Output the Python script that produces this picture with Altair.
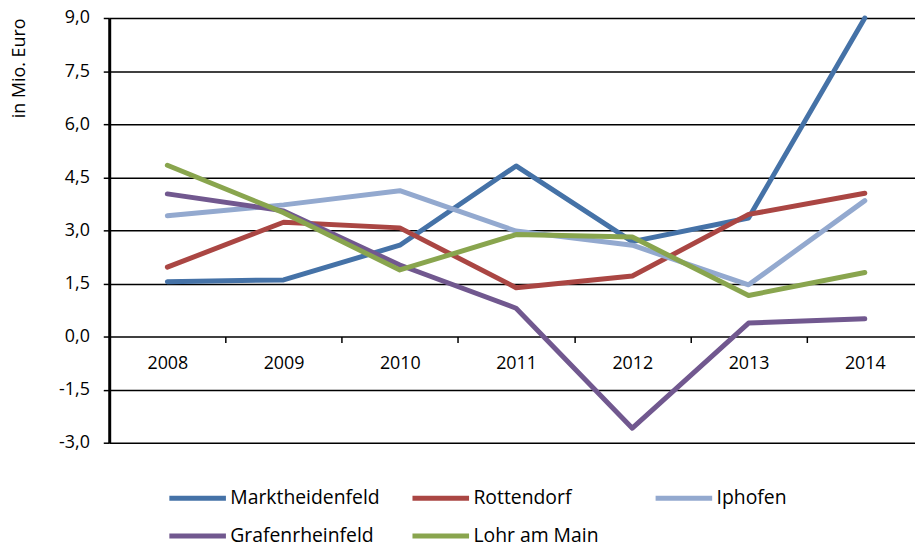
import altair as alt
import pandas as pd

years = ["2008", "2009", "2010", "2011", "2012", "2013", "2014"]
series_names = ["Marktheidenfeld", "Rottendorf", "Iphofen", "Grafenrheinfeld", "Lohr am Main"]
marktheidenfeld = [1.55, 1.60, 2.58, 4.82, 2.68, 3.35, 9.0]
rottendorf = [1.96, 3.23, 3.07, 1.38, 1.71, 3.45, 4.05]
iphofen = [3.41, 3.72, 4.12, 2.98, 2.58, 1.46, 3.84]
grafenrheinfeld = [4.03, 3.55, 2.02, 0.80, -2.59, 0.38, 0.50]
lohr_am_main = [4.84, 3.50, 1.88, 2.88, 2.81, 1.16, 1.81]
colors = ["#4572A7", "#AA4643", "#93A9CF", "#71588F", "#89A54E"]
y_ticks = [-3.0, -1.5, 0.0, 1.5, 3.0, 4.5, 6.0, 7.5, 9.0]

values = [marktheidenfeld, rottendorf, iphofen, grafenrheinfeld, lohr_am_main]
rows = []
for i, (name, vals) in enumerate(zip(series_names, values)):
    for y, v in zip(years, vals):
        rows.append({"Jahr": y, "Wert": v, "Gemeinde": name, "order": i})
df = pd.DataFrame(rows)

FONT = "Open Sans"

chart = alt.Chart(df).mark_line(
    strokeWidth=5, strokeCap="round", strokeJoin="round"
).encode(
    x=alt.X(
        "Jahr:N",
        sort=years,
        scale=alt.Scale(paddingInner=0, paddingOuter=0, range=[0, 820]),
        axis=alt.Axis(
            title=None,
            labelAngle=0,
            domain=False,
            grid=False,
            ticks=True,
            tickBand="extent",
            tickSize=6,
            tickWidth=1.5,
            tickColor="black",
            offset=-107,
            labelPadding=12,
            labelFont=FONT,
            labelFontSize=18,
            labelColor="black",
        ),
    ),
    y=alt.Y(
        "Wert:Q",
        scale=alt.Scale(domain=[-3, 9], nice=False, zero=False),
        axis=alt.Axis(
            values=y_ticks,
            labelExpr="(datum.value < 0 ? '-' : '') + replace(format(abs(datum.value), '.1f'), '.', ',')",
            title="in Mio. Euro",
            titleFont=FONT,
            titleFontSize=18,
            titleFontWeight="normal",
            titleColor="black",
            titleAnchor="end",
            titlePadding=30,
            labelFont=FONT,
            labelFontSize=18,
            labelColor="black",
            labelPadding=14,
            tickSize=6,
            tickWidth=1.5,
            tickColor="black",
            domain=True,
            domainColor="black",
            domainWidth=3,
            grid=True,
            gridColor="black",
            gridWidth=1.5,
            gridOpacity=1,
        ),
    ),
    color=alt.Color(
        "Gemeinde:N",
        sort=series_names,
        scale=alt.Scale(domain=series_names, range=colors),
        legend=alt.Legend(
            title=None,
            orient="none",
            direction="horizontal",
            legendX=58,
            legendY=470,
            columns=3,
            gridAlign="all",
            columnPadding=22,
            rowPadding=14,
            symbolType="M-1,0H4",
            symbolSize=520,
            symbolStrokeWidth=5,
            labelOffset=36,
            labelFont=FONT,
            labelFontSize=19.5,
            labelColor="black",
        ),
    ),
    order=alt.Order("order:Q"),
    detail="Gemeinde:N",
).properties(
    width=812,
    height=428,
    autosize=alt.AutoSizeParams(type="none"),
    padding={"left": 102, "top": 8, "right": 0, "bottom": 100},
).configure_view(stroke=None)

chart.save("out.html", embed_options={"renderer": "svg", "actions": False})
